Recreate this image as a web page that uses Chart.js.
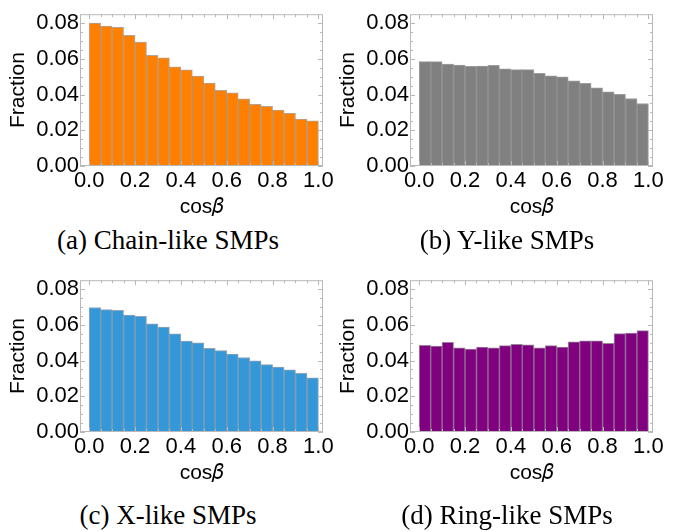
<!DOCTYPE html>
<html>
<head>
<meta charset="utf-8">
<script src="https://cdn.jsdelivr.net/npm/chart.js@4.4.1/dist/chart.umd.min.js"></script>
<style>
  html, body { margin: 0; padding: 0; background: #fff; }
  body { width: 687px; height: 532px; position: relative; overflow: hidden; }
  .panel { position: absolute; width: 340px; height: 225px; }
  .caption { position: absolute; font-family: "Liberation Serif", serif; font-size: 27px; line-height: 30px; color: #000; white-space: nowrap; transform: translateX(-50%); }
</style>
</head>
<body>
<div class="panel" style="left:0;top:0"><canvas id="chartA"></canvas></div>
<div class="panel" style="left:330px;top:0"><canvas id="chartB"></canvas></div>
<div class="panel" style="left:0;top:266px"><canvas id="chartC"></canvas></div>
<div class="panel" style="left:330px;top:266px"><canvas id="chartD"></canvas></div>
<div class="caption" style="left:168px;top:225px">(a) Chain-like SMPs</div>
<div class="caption" style="left:507px;top:225px">(b) Y-like SMPs</div>
<div class="caption" style="left:168px;top:500px">(c) X-like SMPs</div>
<div class="caption" style="left:507px;top:500px">(d) Ring-like SMPs</div>
<script>
// bin centres of cos(beta), 20 bins of width 0.05
const binCenters = [0.025, 0.075, 0.125, 0.175, 0.225, 0.275, 0.325, 0.375, 0.425, 0.475,
                    0.525, 0.575, 0.625, 0.675, 0.725, 0.775, 0.825, 0.875, 0.925, 0.975]

const chainLike = [0.0800, 0.0784, 0.0777, 0.0731, 0.0694, 0.0620, 0.0606, 0.0555, 0.0539, 0.0503,
                   0.0465, 0.0424, 0.0410, 0.0376, 0.0346, 0.0334, 0.0313, 0.0295, 0.0263, 0.0253]
const yLike     = [0.0584, 0.0584, 0.0571, 0.0565, 0.0558, 0.0560, 0.0563, 0.0544, 0.0540, 0.0540,
                   0.0519, 0.0505, 0.0500, 0.0477, 0.0463, 0.0438, 0.0415, 0.0401, 0.0378, 0.0350]
const xLike     = [0.0697, 0.0686, 0.0681, 0.0654, 0.0647, 0.0605, 0.0587, 0.0550, 0.0509, 0.0499,
                   0.0469, 0.0456, 0.0437, 0.0417, 0.0398, 0.0377, 0.0363, 0.0348, 0.0329, 0.0304]
const ringLike  = [0.0486, 0.0481, 0.0502, 0.0472, 0.0465, 0.0475, 0.0472, 0.0484, 0.0491, 0.0488,
                   0.0472, 0.0484, 0.0475, 0.0505, 0.0511, 0.0511, 0.0496, 0.0551, 0.0554, 0.0568]

const xTickStep = 0.2
const yTickStep = 0.02

const tickFont = { family: "'Liberation Sans', Arial, sans-serif", size: 22 }
const titleFont = { family: "'Liberation Sans', Arial, sans-serif", size: 21 }

// Mathematica-style frame: light box with small inward ticks on every side
const framePlugin = {
  id: 'frame',
  afterDatasetsDraw(chart) {
    const { ctx, chartArea: a, scales: { x, y } } = chart
    ctx.save()
    ctx.strokeStyle = '#b8b8b8'
    ctx.lineWidth = 1
    ctx.strokeRect(a.left + 0.5, a.top + 0.5, a.right - a.left - 1, a.bottom - a.top - 1)
    ctx.beginPath()
    for (let i = 0; i <= 20; i++) {
      const px = Math.round(x.getPixelForValue(i * 0.05)) + 0.5
      const len = i % 4 === 0 ? 5 : 3
      ctx.moveTo(px, a.bottom); ctx.lineTo(px, a.bottom - len)
      ctx.moveTo(px, a.top); ctx.lineTo(px, a.top + len)
    }
    for (let i = 0; i <= 16; i++) {
      const py = Math.round(y.getPixelForValue(i * 0.005)) + 0.5
      const len = i % 4 === 0 ? 5 : 3
      ctx.moveTo(a.left, py); ctx.lineTo(a.left + len, py)
      ctx.moveTo(a.right, py); ctx.lineTo(a.right - len, py)
    }
    ctx.stroke()
    ctx.restore()
  }
}

function makeChart(id, values, fill, edge) {
  const canvas = document.getElementById(id)
  return new Chart(canvas.getContext('2d'), {
    type: 'bar',
    data: {
      datasets: [{
        data: binCenters.map((c, i) => ({ x: c, y: values[i] })),
        backgroundColor: fill,
        borderColor: edge,
        borderWidth: 1,
        barPercentage: 1,
        categoryPercentage: 1
      }]
    },
    options: {
      responsive: true,
      maintainAspectRatio: false,
      animation: false,
      layout: { padding: { top: 6, right: 17, left: 0, bottom: 0 } },
      plugins: { legend: { display: false }, tooltip: { enabled: false } },
      scales: {
        x: {
          type: 'linear',
          offset: false,
          min: -0.04,
          max: 1.02,
          grid: { display: false, drawTicks: false },
          border: { display: false },
          ticks: {
            stepSize: xTickStep,
            includeBounds: false,
            maxRotation: 0,
            padding: 2,
            color: '#000',
            font: tickFont,
            callback: v => v.toFixed(1)
          },
          title: {
            display: true,
            text: 'cos\u{1D6FD}',
            color: '#000',
            font: titleFont,
            padding: { top: 0, bottom: 5 }
          },
          afterFit(scale) { scale.height = 59 }
        },
        y: {
          min: 0,
          max: 0.085,
          grid: { display: false, drawTicks: false },
          border: { display: false },
          ticks: {
            stepSize: yTickStep,
            includeBounds: false,
            padding: 1,
            color: '#000',
            font: tickFont,
            callback: v => v.toFixed(2)
          },
          title: {
            display: true,
            text: 'Fraction',
            color: '#000',
            font: titleFont,
            padding: { top: 6, bottom: 0 }
          },
          afterFit(scale) { scale.width = 80 }
        }
      }
    },
    plugins: [framePlugin]
  })
}

makeChart('chartA', chainLike, '#ff8000', 'rgba(120,90,60,0.55)')
makeChart('chartB', yLike, '#808080', 'rgba(90,90,90,0.6)')
makeChart('chartC', xLike, '#3498d8', 'rgba(60,90,120,0.55)')
makeChart('chartD', ringLike, '#800080', 'rgba(70,30,70,0.55)')
</script>
</body>
</html>
